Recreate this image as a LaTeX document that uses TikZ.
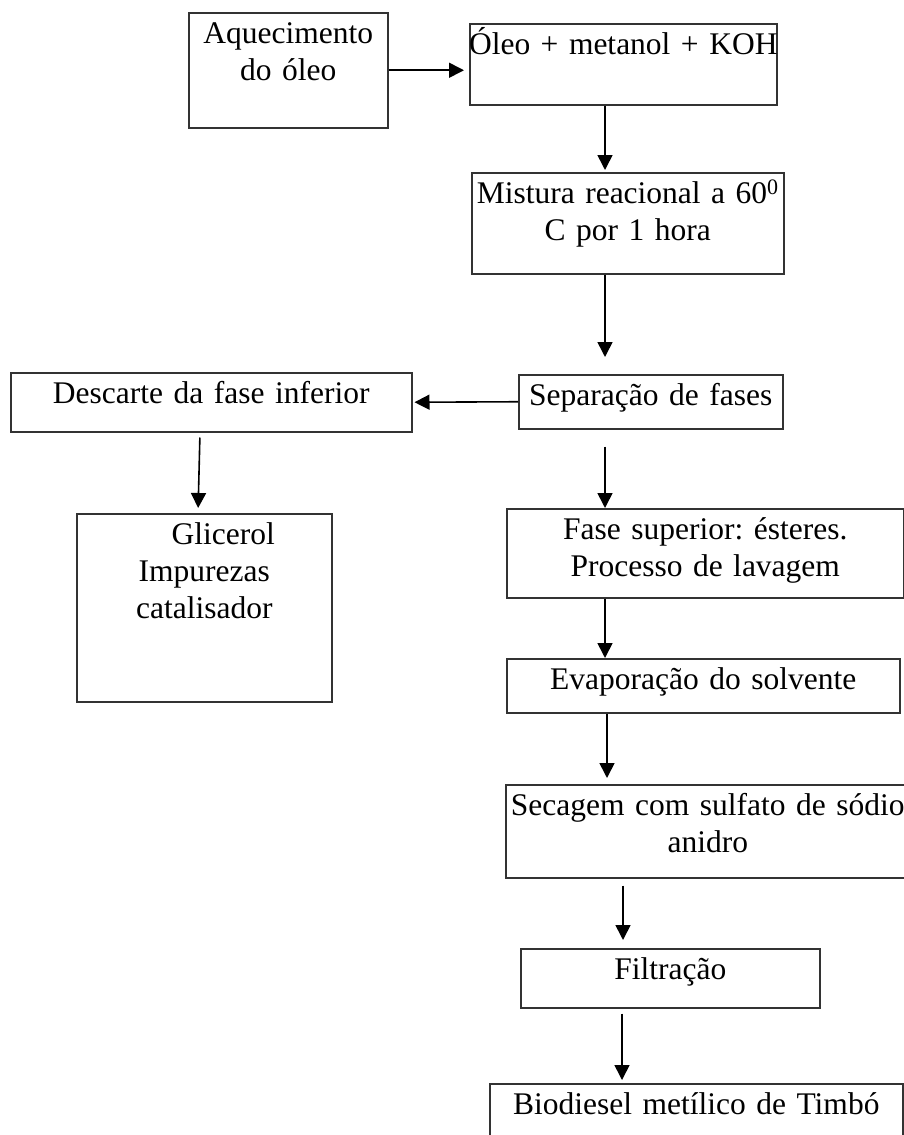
\documentclass[tikz,border=0pt]{standalone}
\usepackage{fontspec}
\setmainfont{Liberation Serif}
\usetikzlibrary{arrows.meta,calc}

\begin{document}
\begin{tikzpicture}
  [
  x=1pt, y=-1pt,
  font=\fontsize{31.5}{37}\selectfont\frenchspacing, >={Triangle[length=15pt,width=15pt]}, line width=1.6pt,
  etapa/.style={rectangle, draw=black!80, line width=1.5pt, anchor=north west, align=center, inner xsep=-10pt, inner ysep=5pt, text height=26pt}
  ]

\useasboundingbox (0,0) rectangle (904,1135);
\clip (0,0) rectangle (904,1135);

% caixas
\node[etapa, text width=219pt, text depth=79pt] (aquec) at (188,12) {Aquecimento\\do óleo};
\node[etapa, text width=327pt, text depth=45pt] (oleo) at (469,23) {Óleo + metanol + KOH};
\node[etapa, text width=332pt, text depth=65pt] (mistura) at (471,172) {Mistura reacional a 60\textsuperscript{0}\\C por 1 hora};
\node[etapa, text width=284pt, text depth=18pt] (separacao) at (518,374) {Separação de fases};
\node[etapa, text width=421pt, text depth=23pt] (descarte) at (10,372) {Descarte da fase inferior};
\node[etapa, text width=275pt, text depth=152pt] (glicerol) at (76,513) {\hspace*{38pt}Glicerol\\Impurezas\\catalisador};
\node[etapa, text width=417pt, text depth=53pt] (fase) at (506,508) {Fase superior: ésteres.\\Processo de lavagem};
\node[etapa, text width=413pt, text depth=18pt] (evaporacao) at (506,658) {Evaporação do solvente};
\node[etapa, text width=424pt, text depth=57pt] (secagem) at (505,784) {Secagem com sulfato de sódio\\anidro};
\node[etapa, text width=319pt, text depth=23pt] (filtracao) at (520,948) {Filtração};
\node[etapa, text width=433pt, text depth=44pt] (biodiesel) at (489,1083) {Biodiesel metílico de Timbó};

% colunas das setas
\coordinate (c1) at (605,0);
\coordinate (c2) at (200,0);
\coordinate (c3) at (198,0);
\coordinate (c4) at (607,0);
\coordinate (c5) at (623,0);
\coordinate (c6) at (622,0);

\draw[->, shorten >=5pt] (aquec.east) -- (aquec.east -| oleo.west);
\draw[->, shorten >=2pt] (oleo.south -| c1) -- (mistura.north -| c1);
\draw[->, shorten >=17pt] (mistura.south -| c1) -- (separacao.north -| c1);
\draw[->, shorten >=2pt] (separacao.west) -- (descarte.east);
\draw[->, shorten <=5pt, shorten >=5pt] (descarte.south -| c2) -- (glicerol.north -| c3);
\draw[->, shorten <=17pt] (separacao.south -| c1) -- (fase.north -| c1);
\draw[->] (fase.south -| c1) -- (evaporacao.north -| c1);
\draw[->, shorten >=6pt] (evaporacao.south -| c4) -- (secagem.north -| c4);
\draw[->, shorten <=7pt, shorten >=8pt] (secagem.south -| c5) -- (filtracao.north -| c5);
\draw[->, shorten <=5pt, shorten >=3pt] (filtracao.south -| c6) -- (biodiesel.north -| c6);

\end{tikzpicture}
\end{document}
